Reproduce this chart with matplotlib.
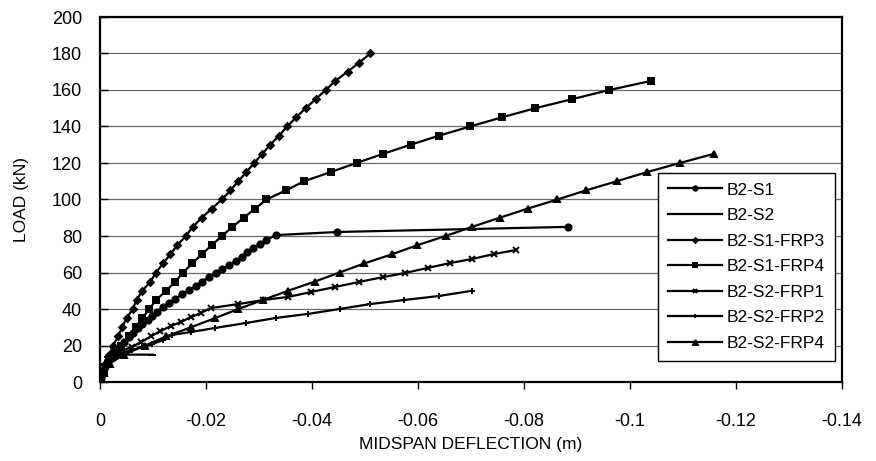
import numpy as np
import matplotlib
matplotlib.use("Agg")
import matplotlib.pyplot as plt

plt.rcParams['font.family'] = ['Liberation Sans', 'DejaVu Sans']

# midspan deflection (m, negative = downward) and load (kN) for each beam
s1_defl = [0, -0.0001, -0.0004, -0.0007, -0.0011, -0.0016, -0.0022, -0.0029, -0.0037,
           -0.0045, -0.0054, -0.0063, -0.0072, -0.0080, -0.0090, -0.0099, -0.0108,
           -0.0119, -0.0131, -0.0142, -0.0155, -0.0168, -0.0181, -0.0192, -0.0205,
           -0.0218, -0.0230, -0.0243, -0.0256, -0.0267, -0.0278, -0.0289, -0.0302,
           -0.0314, -0.0332, -0.0448, -0.0883]
s1_load = [0, 2, 4.5, 7, 9.5, 12, 14.5, 17, 19.5, 22, 24.5, 27, 29.5, 31.8, 34.0, 36.2,
           38.4, 41.1, 43.3, 45.5, 48.2, 50.4, 52.6, 54.8, 57.5, 59.7, 61.9, 64.1, 66.3,
           68.5, 71.2, 73.4, 75.6, 77.8, 80.5, 82.2, 85]

s2_defl = [0, -0.0004, -0.0008, -0.0015, -0.0034, -0.0099]
s2_load = [0, 5, 10, 13.5, 15, 15]

s1frp3_defl = [0, -0.0004, -0.0010, -0.0017, -0.0025, -0.0034, -0.0042, -0.0050,
               -0.0062, -0.0069, -0.0080, -0.0095, -0.0106, -0.0119, -0.0133, -0.0146,
               -0.0162, -0.0175, -0.0192, -0.0211, -0.0230, -0.0246, -0.0261, -0.0276,
               -0.0291, -0.0306, -0.0321, -0.0338, -0.0353, -0.0370, -0.0388, -0.0407,
               -0.0426, -0.0444, -0.0467, -0.0489, -0.0510]
s1frp3_load = [0, 5, 10, 15, 20, 25, 30, 35, 40, 45, 50, 55, 60, 65, 70, 75, 80, 85, 90,
               95, 100, 105, 110, 115, 120, 125, 130, 135, 140, 145, 150, 155, 160, 165,
               170, 175, 180]

s1frp4_defl = [0, -0.0007, -0.0016, -0.0027, -0.0040, -0.0054, -0.0067, -0.0080,
               -0.0093, -0.0106, -0.0125, -0.0142, -0.0157, -0.0174, -0.0192, -0.0211,
               -0.0230, -0.0250, -0.0271, -0.0293, -0.0314, -0.0351, -0.0385, -0.0435,
               -0.0484, -0.0534, -0.0586, -0.0640, -0.0698, -0.0758, -0.0821, -0.0891,
               -0.0961, -0.1040]
s1frp4_load = [0, 5, 10, 15, 20, 25, 30, 35, 40, 45, 50, 55, 60, 65, 70, 75, 80, 85, 90,
               95, 100, 105, 110, 115, 120, 125, 130, 135, 140, 145, 150, 155, 160, 165]

s2frp1_defl = [0, -0.0003, -0.0008, -0.0018, -0.0035, -0.0060, -0.0078, -0.0097,
               -0.0114, -0.0134, -0.0153, -0.0172, -0.0190, -0.0209, -0.0261, -0.0308,
               -0.0355, -0.0398, -0.0444, -0.0489, -0.0534, -0.0575, -0.0618, -0.0661,
               -0.0702, -0.0743, -0.0784]
s2frp1_load = [0, 4, 8, 13, 16.5, 19.2, 21.9, 25.2, 27.9, 30.7, 32.9, 35.6, 37.8, 40.5,
               42.7, 44.9, 46.6, 49.3, 52.1, 54.8, 57.5, 59.7, 62.5, 65.2, 67.4, 70.1, 72.3]

s2frp2_defl = [0, -0.0002, -0.0007, -0.0017, -0.0035, -0.0060, -0.0080, -0.0099,
               -0.0119, -0.0136, -0.0172, -0.0217, -0.0275, -0.0332, -0.0392, -0.0452,
               -0.0510, -0.0573, -0.0639, -0.0702]
s2frp2_load = [0, 3, 7, 12, 15.5, 17.5, 19.2, 20.8, 23.0, 25.8, 27.4, 29.6, 32.3, 35.1,
               37.3, 40.0, 42.7, 44.9, 47.1, 50]

s2frp4_defl = [0, -0.0007, -0.0018, -0.0045, -0.0085, -0.0125, -0.0172, -0.0217,
               -0.0261, -0.0308, -0.0355, -0.0405, -0.0452, -0.0499, -0.0551, -0.0599,
               -0.0652, -0.0702, -0.0754, -0.0807, -0.0863, -0.0917, -0.0975, -0.1032,
               -0.1094, -0.1158]
s2frp4_load = [0, 5, 10, 15, 20, 25, 30, 35, 40, 45, 50, 55, 60, 65, 70, 75, 80, 85, 90,
               95, 100, 105, 110, 115, 120, 125]

series = [
    ("B2-S1", s1_defl, s1_load, 'o', 4.5),
    ("B2-S2", s2_defl, s2_load, '_', 6),
    ("B2-S1-FRP3", s1frp3_defl, s1frp3_load, 'D', 3.5),
    ("B2-S1-FRP4", s1frp4_defl, s1frp4_load, 's', 5),
    ("B2-S2-FRP1", s2frp1_defl, s2frp1_load, 'x', 5),
    ("B2-S2-FRP2", s2frp2_defl, s2frp2_load, '+', 5),
    ("B2-S2-FRP4", s2frp4_defl, s2frp4_load, '^', 5),
]

fig = plt.figure(figsize=(8.76, 4.61), dpi=100)
ax = fig.add_axes([100 / 876, 1 - 382 / 461, 742 / 876, 365 / 461])

for name, x, y, m, ms in series:
    ax.plot(x, y, color='k', lw=1.6, marker=m, ms=ms, mew=1.4, label=name)

ax.set_xlim(0, -0.14)
ax.set_ylim(0, 200)
ax.set_xticks(np.arange(0, -0.141, -0.02))
ax.set_xticklabels(['0', '-0.02', '-0.04', '-0.06', '-0.08', '-0.1', '-0.12', '-0.14'])
ax.set_yticks(np.arange(0, 201, 20))
ax.yaxis.grid(True, color='#6a6a6a', lw=0.9)
ax.set_axisbelow(True)

for sp in ax.spines.values():
    sp.set_linewidth(1.6)
ax.tick_params(axis='x', direction='out', length=5, width=1, pad=17, labelsize=13)
ax.tick_params(axis='y', direction='in', length=6, width=1, pad=13, labelsize=13)

ax.set_xlabel('MIDSPAN DEFLECTION (m)', fontsize=12.5, labelpad=5)
ax.set_ylabel('LOAD (kN)', fontsize=12.5, labelpad=16)

leg = ax.legend(loc='upper right', bbox_to_anchor=(0.99, 0.573), borderaxespad=0,
                fontsize=12.5, frameon=True, fancybox=False, framealpha=1,
                edgecolor='k', handlelength=3.1, handletextpad=0.3,
                labelspacing=0.6, markerscale=0.7, borderpad=0.55)
leg.get_frame().set_linewidth(1.0)

fig.savefig('out.png', dpi=100)
